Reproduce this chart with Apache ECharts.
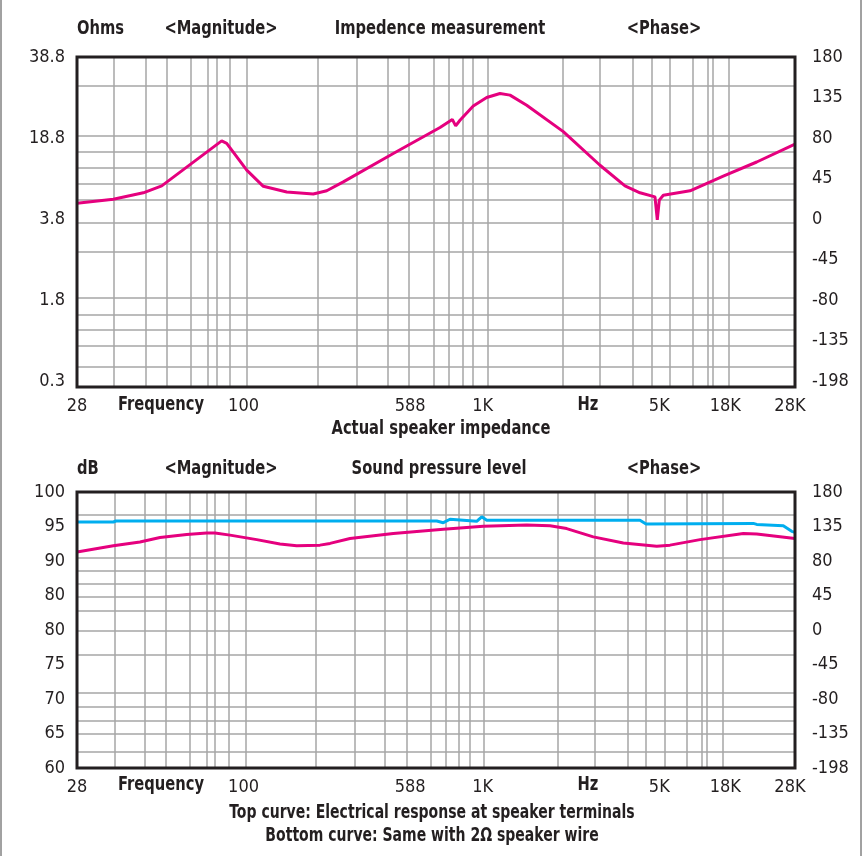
<!DOCTYPE html>
<html><head><meta charset="utf-8">
<script src="https://cdn.jsdelivr.net/npm/echarts@6/dist/echarts.min.js"></script>
<style>html,body{margin:0;padding:0;background:#fff}#c{width:867px;height:856px}</style>
</head><body><div id="c"></div>
<script>
// ---- X axis (position along the printed frequency scale, 0..100 %) ----
const xTickPos = [0, 23.2, 46.4, 56.5, 81.1, 90.3, 99.3];
const xTickLabels = ['28', '100', '588', '1K', '5K', '18K', '28K'];
const topVGrid = [5.15, 9.57, 12.49, 15.84, 18.15, 19.46, 21.31, 23.64, 33.47, 38.96, 43.22, 46.24, 49.72, 51.71, 53.66, 55.11, 57.20, 67.59, 72.74, 77.34, 79.99, 82.59, 85.70, 87.84, 88.54, 90.71];
const botVGrid = [5.19, 9.47, 12.40, 15.74, 18.06, 19.22, 21.17, 23.54, 33.19, 38.62, 42.90, 45.92, 49.30, 51.30, 53.20, 54.64, 56.69, 66.95, 72.05, 76.70, 79.25, 81.89, 84.92, 87.00, 87.70, 89.93];

// ---- Top chart: impedance ----
const ohmTickPos = [0, 2, 4, 6, 8];
const ohmLabels = ['0.3', '1.8', '3.8', '18.8', '38.8'];
const phaseTickPos = [0, 1, 2, 3, 4, 5, 6, 7, 8];
const phaseLabels = ['-198', '-135', '-80', '-45', '0', '45', '80', '135', '180'];
const topHGrid = [7.29, 6.06, 5.66, 5.28, 4.88, 4.49, 3.91, 3.19, 2.06, 1.65, 1.28, 0.87, 0.35];
const impX = [0, 5.06, 9.23, 11.80, 20.15, 20.85, 23.64, 25.95, 29.21, 32.91, 34.78, 37.09, 44.05, 50.56, 52.27, 52.74, 53.34, 55.19, 57.06, 58.91, 60.31, 62.63, 67.73, 72.84, 76.32, 78.41, 80.50, 80.82, 81.10, 81.66, 85.38, 90.01, 94.67, 100];
const impY = [4.39, 4.49, 4.65, 4.82, 5.93, 5.87, 5.21, 4.81, 4.67, 4.62, 4.70, 4.92, 5.62, 6.26, 6.46, 6.30, 6.44, 6.79, 7.00, 7.10, 7.06, 6.81, 6.16, 5.33, 4.82, 4.65, 4.55, 3.98, 4.47, 4.59, 4.70, 5.06, 5.41, 5.85];

// ---- Bottom chart: sound pressure level ----
const dbTickPos = [0, 1, 2, 3, 4, 5, 6, 7, 8];
const dbLabels = ['60', '65', '70', '75', '80', '80', '90', '95', '100'];
const botHGrid = [7.33, 6.10, 5.72, 5.33, 4.95, 4.56, 3.98, 3.28, 2.17, 1.77, 1.38, 0.99, 0.48];
const splTopX = [0, 5.06, 5.43, 50.10, 51.02, 51.95, 53.80, 55.67, 56.37, 57.06, 78.41, 79.25, 94.19, 94.67, 98.37, 99.54, 100];
const splTopY = [7.13, 7.13, 7.16, 7.16, 7.11, 7.21, 7.18, 7.15, 7.28, 7.18, 7.18, 7.07, 7.09, 7.06, 7.02, 6.86, 6.83];
const splBotX = [0, 5.06, 8.77, 11.56, 15.28, 18.06, 19.22, 21.31, 25.03, 28.27, 30.60, 33.84, 35.24, 38.02, 44.05, 51.02, 56.59, 62.63, 65.88, 68.20, 71.91, 76.09, 80.74, 82.59, 86.77, 92.80, 94.67, 100];
const splBotY = [6.26, 6.44, 6.55, 6.68, 6.77, 6.81, 6.81, 6.75, 6.62, 6.49, 6.44, 6.46, 6.51, 6.65, 6.80, 6.92, 7.01, 7.04, 7.02, 6.94, 6.70, 6.52, 6.43, 6.46, 6.62, 6.80, 6.78, 6.65];

const FONT = "'Liberation Sans Narrow','Arial Narrow','DejaVu Sans Condensed',sans-serif";
const TXT = '#231f20';
const PINK = '#e5007e';
const BLUE = '#00aeef';
const GRIDC = '#a6a6a6';

function zip(xs, ys) { return xs.map((x, i) => [x, ys[i]]); }
function lookup(pos, labels) { return v => { const i = pos.findIndex(p => Math.abs(p - v) < 1e-6); return i >= 0 ? labels[i] : ''; }; }

const labelStyle = { color: TXT, fontFamily: FONT, fontSize: 18 };

function xAxisFor(gi) {
  return {
    type: 'value', gridIndex: gi, min: 0, max: 100,
    axisLine: { show: false }, axisTick: { show: false }, splitLine: { show: false },
    axisLabel: Object.assign({ customValues: xTickPos, formatter: lookup(xTickPos, xTickLabels), margin: 10, showMinLabel: true, showMaxLabel: true, hideOverlap: false }, labelStyle)
  };
}
function yAxisFor(gi, min, max, pos, labels, pos2) {
  return {
    type: 'value', gridIndex: gi, min: min, max: max, position: pos2,
    axisLine: { show: false }, axisTick: { show: false }, splitLine: { show: false },
    axisLabel: Object.assign({ customValues: pos, formatter: lookup(pos, labels), margin: pos2 === 'left' ? 12 : 17, showMinLabel: true, showMaxLabel: true, hideOverlap: false }, labelStyle)
  };
}
function gridSeries(xi, yi, vList, hList) {
  return {
    type: 'line', xAxisIndex: xi, yAxisIndex: yi, data: [], silent: true, z: 1,
    markLine: {
      silent: true, symbol: ['none', 'none'], animation: false,
      label: { show: false },
      lineStyle: { color: GRIDC, width: 1.5, type: 'solid' },
      data: vList.map(v => ({ xAxis: v })).concat(hList.map(h => ({ yAxis: h })))
    }
  };
}
function curve(xi, yi, data, color) {
  return {
    type: 'line', xAxisIndex: xi, yAxisIndex: yi, data: data, showSymbol: false, symbol: 'none',
    smooth: false, z: 5, lineStyle: { color: color, width: 3 }, animation: false
  };
}

const bold = { fontFamily: FONT, fontWeight: 'bold', fontSize: 19, fill: TXT };
function t(x, y, text, align, sx) {
  return { type: 'text', x: x, y: y, scaleX: sx || 0.86, style: Object.assign({ text: text, textAlign: align || 'center', textVerticalAlign: 'middle' }, bold) };
}

const chart = echarts.init(document.getElementById('c'), null, { renderer: 'canvas' });
chart.setOption({
  animation: false,
  backgroundColor: '#fff',
  grid: [
    { left: 77, top: 57, width: 718, height: 330, show: true, borderColor: '#231f20', borderWidth: 3, backgroundColor: 'transparent', z: 10 },
    { left: 77, top: 492, width: 718, height: 276, show: true, borderColor: '#231f20', borderWidth: 3, backgroundColor: 'transparent', z: 10 }
  ],
  xAxis: [xAxisFor(0), xAxisFor(1)],
  yAxis: [
    yAxisFor(0, -0.14, 8, ohmTickPos, ohmLabels, 'left'),
    yAxisFor(0, -0.14, 8, phaseTickPos, phaseLabels, 'right'),
    yAxisFor(1, 0, 8, dbTickPos, dbLabels, 'left'),
    yAxisFor(1, 0, 8, phaseTickPos, phaseLabels, 'right')
  ],
  series: [
    gridSeries(0, 0, topVGrid, topHGrid),
    gridSeries(1, 2, botVGrid, botHGrid),
    curve(0, 0, zip(impX, impY), PINK),
    curve(1, 2, zip(splTopX, splTopY), BLUE),
    curve(1, 2, zip(splBotX, splBotY), PINK)
  ],
  graphic: [
    t(77, 29, 'Ohms', 'left'),
    t(221, 29, '<Magnitude>'),
    t(440, 29, 'Impedence measurement'),
    t(664, 29, '<Phase>'),
    t(161, 405, 'Frequency'),
    t(588, 405, 'Hz'),
    t(441, 429, 'Actual speaker impedance'),
    t(77, 469, 'dB', 'left'),
    t(221, 469, '<Magnitude>'),
    t(439, 469, 'Sound pressure level'),
    t(664, 469, '<Phase>'),
    t(161, 785, 'Frequency'),
    t(588, 785, 'Hz'),
    t(432, 813, 'Top curve: Electrical response at speaker terminals', 'center', 0.82),
    t(432, 836, 'Bottom curve: Same with 2\u03A9 speaker wire', 'center', 0.82),
    { type: 'line', shape: { x1: 1, y1: 0, x2: 1, y2: 856 }, style: { stroke: '#444', lineWidth: 1 } },
    { type: 'line', shape: { x1: 861, y1: 0, x2: 861, y2: 856 }, style: { stroke: '#444', lineWidth: 1 } }
  ]
});
</script></body></html>
